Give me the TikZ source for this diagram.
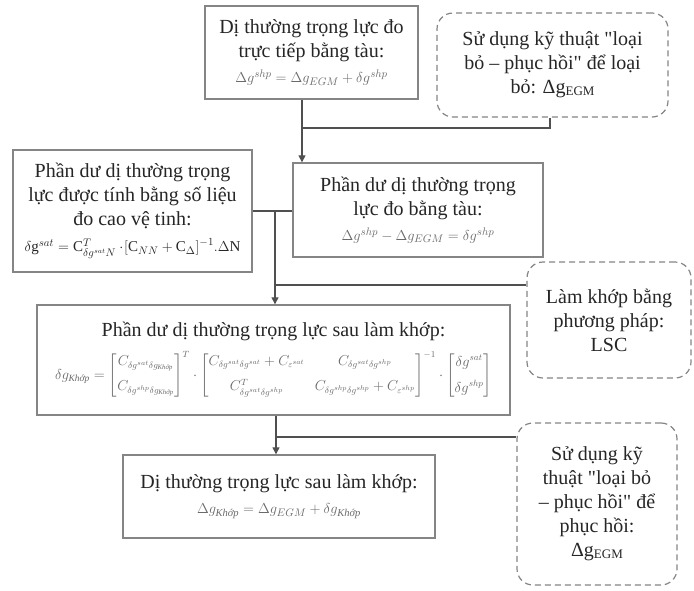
\documentclass[tikz,border=0pt]{standalone}
\usepackage{fontspec}
\setmainfont{Liberation Serif}[Ligatures=TeXOff]
\usepackage{amsmath}
\usetikzlibrary{arrows.meta}
\definecolor{edgegray}{HTML}{858585}
\definecolor{ink}{HTML}{262626}
\definecolor{fmlgray}{HTML}{6A6A6A}
\definecolor{wiregray}{HTML}{505050}
\newcommand{\egmsub}{{\fontsize{13}{13}\selectfont\raisebox{-1.5pt}{EGM}}}
\newcommand{\fmlfont}{\fontsize{15}{18}\selectfont\color{fmlgray}}
\newcommand{\sq}{\char"22\relax}
\begin{document}
\begin{tikzpicture}[x=1pt,y=-1pt,
  box/.style={draw=edgegray, line width=1.4pt, fill=white, inner sep=0pt,
    align=center, text=ink, font=\fontsize{20}{24}\selectfont},
  dbox/.style={box, dash pattern=on 6pt off 4pt, rounded corners=16pt, line width=1.2pt},
  wire/.style={draw=wiregray, line width=1.3pt},
  arr/.style={wire, -{Triangle[length=7pt,width=7pt]}}]
\useasboundingbox (0,0) rectangle (694,590);

% solid boxes
\node[box, minimum width=213pt, minimum height=93pt] (b1) at (311.5,52.5)
  {Dị thường trọng lực đo\\trực tiếp bằng tàu:\\[1pt]
   {\fmlfont$\Delta g^{shp} = \Delta g_{EGM} + \delta g^{shp}$}};
\node[box, minimum width=239pt, minimum height=122pt] (b3) at (132.5,211)
  {Phần dư dị thường trọng\\lực được tính bằng số liệu\\đo cao vệ tinh:\\[2pt]
   {\fontsize{15}{18}\selectfont$\delta\mathrm{g}^{sat} = \mathrm{C}^{T}_{\delta g^{sat}N}\cdot\!\left[\mathrm{C}_{NN} + \mathrm{C}_{\Delta}\right]^{-1}\!.\Delta\mathrm{N}$}};
\node[box, minimum width=250pt, minimum height=94pt] (b4) at (418,210)
  {Phần dư dị thường trọng\\lực đo bằng tàu:\\[1pt]
   {\fmlfont$\Delta g^{shp} - \Delta g_{EGM} = \delta g^{shp}$}};
\node[box, minimum width=473pt, minimum height=110pt] (b5) at (273.5,360)
  {Phần dư dị thường trọng lực sau làm khớp:\\[9pt]
   {\fontsize{13.5}{15}\selectfont\color{fmlgray}$\delta g_{\textit{Khớp}} =
   \begin{bmatrix} C_{\delta g^{sat}\delta g_{\textit{Khớp}}}\\[10pt] C_{\delta g^{shp}\delta g_{\textit{Khớp}}}\end{bmatrix}^{T}
   \cdot
   \begin{bmatrix} C_{\delta g^{sat}\delta g^{sat}} + C_{\varepsilon^{sat}} & C_{\delta g^{sat}\delta g^{shp}}\\[10pt]
     C^{T}_{\delta g^{sat}\delta g^{shp}} & C_{\delta g^{shp}\delta g^{shp}} + C_{\varepsilon^{shp}}\end{bmatrix}^{-1}
   \cdot
   \begin{bmatrix}\delta g^{sat}\\[10pt] \delta g^{shp}\end{bmatrix}$}};
\node[box, minimum width=312pt, minimum height=83pt] (b6) at (279,496.5)
  {Dị thường trọng lực sau làm khớp:\\[1pt]
   {\fmlfont$\Delta g_{\textit{Khớp}} = \Delta g_{EGM} + \delta g_{\textit{Khớp}}$}};

% dashed rounded boxes
\node[dbox, minimum width=231pt, minimum height=104pt] (d1) at (552.5,65)
  {Sử dụng kỹ thuật \sq loại\\bỏ – phục hồi\sq{} để loại\\bỏ: Δg\egmsub};
\node[dbox, minimum width=164pt, minimum height=116pt] (d2) at (609,320)
  {Làm khớp bằng\\phương pháp:\\LSC};
\node[dbox, minimum width=160pt, minimum height=162pt] (d3) at (597,504)
  {Sử dụng kỹ\\thuật \sq loại bỏ\\– phục hồi\sq{} để\\phục hồi:\\Δg\egmsub};

% junction coordinates
\coordinate (x1) at (302,0);
\coordinate (j1) at (550,128);
\coordinate (x3) at (275,211);
\coordinate (y4) at (0,285);
\coordinate (x5) at (276,0);
\coordinate (y6) at (0,437);

% connectors
\draw[arr] (b1.south -| x1) -- (b4.north -| x1);
\draw[wire] (d1.south -| j1) |- (x1 |- j1);
\draw[wire] (b3.east) -- (b3.east -| b4.west);
\draw[arr] (x3) -- (b5.north -| x3);
\draw[wire] (d2.west |- y4) -- (x3 |- y4);
\draw[arr] (b5.south -| x5) -- (b6.north -| x5);
\draw[wire] (d3.west |- y6) -- (x5 |- y6);
\end{tikzpicture}
\end{document}
